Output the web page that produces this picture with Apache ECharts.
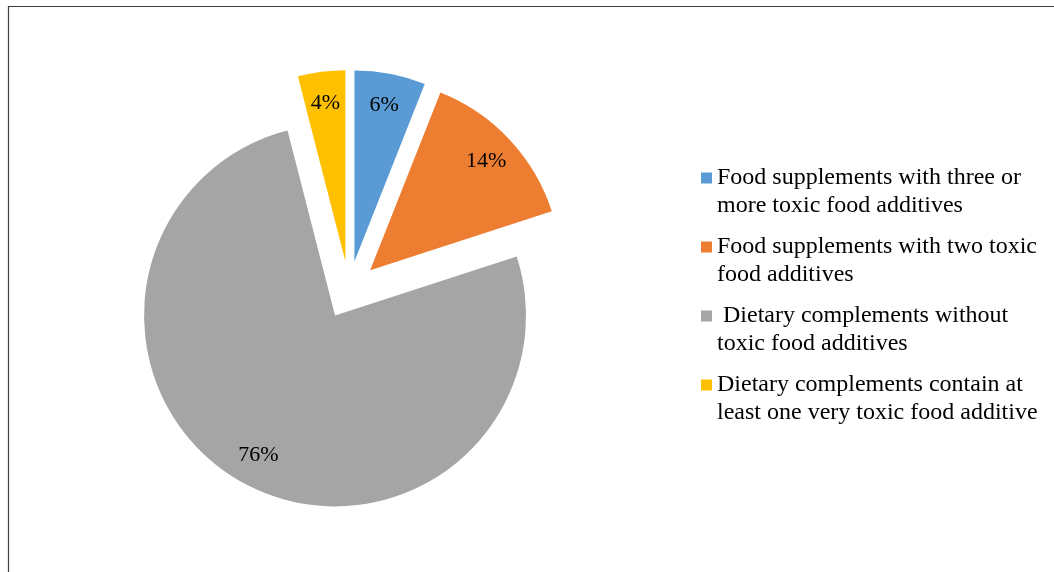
<!DOCTYPE html>
<html>
<head>
<meta charset="utf-8">
<script src="https://cdn.jsdelivr.net/npm/echarts@6/dist/echarts.min.js"></script>
<style>
  html, body { margin: 0; padding: 0; background: #fff; }
  #chart { width: 1054px; height: 572px; }
</style>
</head>
<body>
<div id="chart"></div>
<script>
// slice names (legend), in clockwise order from 12 o'clock
const categories = [
    'Food supplements with three or\nmore toxic food additives',
    'Food supplements with two toxic\nfood additives',
    ' Dietary complements without\ntoxic food additives',
    'Dietary complements contain at\nleast one very toxic food additive'
];
const shares = [6, 14, 76, 4];
const colors = ['#5B9BD5', '#ED7D31', '#A5A5A5', '#FFC000'];

const serif = '"Liberation Serif", "Times New Roman", serif';
const center = [349, 290];
const offset = 29;

// square at the top of a tall icon box, so it lines up with the first text line
const legendIcon = 'path://M0,0H11V11H0Z M0,39H0.01V39.01H0Z';

const chart = echarts.init(document.getElementById('chart'));

const pieData = categories.map((name, i) => ({
    name: name,
    value: shares[i],
    selected: true,
    itemStyle: { color: colors[i] }
}));

chart.setOption({
    animation: false,
    graphic: [{
        type: 'rect',
        silent: true,
        shape: { x: 8.5, y: 6.5, width: 1200, height: 700 },
        style: { fill: 'none', stroke: '#404040', lineWidth: 1.2 }
    }],
    legend: {
        orient: 'vertical',
        left: 701,
        top: 164,
        padding: 0,
        itemWidth: 11,
        itemHeight: 39,
        itemGap: 13,
        icon: legendIcon,
        selectedMode: false,
        data: categories,
        textStyle: {
            fontFamily: serif,
            fontSize: 24,
            lineHeight: 28,
            color: '#000'
        }
    },
    series: [
        {
            // the slices themselves
            type: 'pie',
            center: center,
            radius: 191,
            startAngle: 90,
            clockwise: true,
            selectedMode: 'multiple',
            selectedOffset: offset,
            silent: true,
            label: { show: false },
            labelLine: { show: false },
            emphasis: { disabled: true },
            data: pieData
        },
        {
            // transparent ring only used to place the percent labels near the rim
            type: 'pie',
            center: center,
            radius: [121, 191],
            startAngle: 90,
            clockwise: true,
            selectedMode: 'multiple',
            selectedOffset: offset,
            silent: true,
            legendHoverLink: false,
            itemStyle: { color: 'rgba(0,0,0,0)' },
            emphasis: { disabled: true },
            label: {
                show: true,
                position: 'inside',
                formatter: '{c}%',
                fontFamily: serif,
                fontSize: 22,
                color: '#000'
            },
            labelLine: { show: false },
            data: categories.map((name, i) => ({ name: name, value: shares[i], selected: true }))
        }
    ]
});
</script>
</body>
</html>
